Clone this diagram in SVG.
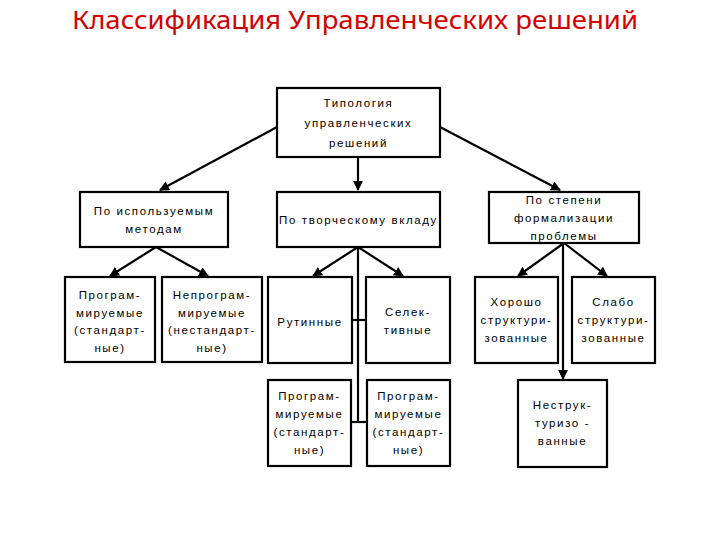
<svg xmlns="http://www.w3.org/2000/svg" width="720" height="540" viewBox="0 0 720 540">
<defs>
<style>
.box{fill:#fff;stroke:#000;stroke-width:2.2}
.t{font-family:"Liberation Sans",Arial,sans-serif;font-size:11.5px;letter-spacing:1.6px;text-anchor:middle;fill:#000}
.c{stroke:#000;stroke-width:2.2;fill:none}
.ttl{font-family:"Noto Sans","Liberation Sans",sans-serif;font-size:26px;fill:#d50000}
</style>
<marker id="ah" viewBox="0 0 10 10" refX="9" refY="5" markerWidth="4.5" markerHeight="4.5" orient="auto" markerUnits="strokeWidth">
<path d="M0,0 L10,5 L0,10 z" fill="#000"/>
</marker>
</defs>
<rect width="720" height="540" fill="#fff"/>
<text class="ttl" x="72" y="29" textLength="566" lengthAdjust="spacingAndGlyphs">Классификация Управленческих решений</text>

<g id="connectors">
<path class="c" d="M277,127 L160,190" marker-end="url(#ah)"/>
<path class="c" d="M440,127 L560,190" marker-end="url(#ah)"/>
<path class="c" d="M358,157 L358,190" marker-end="url(#ah)"/>
<path class="c" d="M156,247 L110,276" marker-end="url(#ah)"/>
<path class="c" d="M156,247 L208,276" marker-end="url(#ah)"/>
<path class="c" d="M358,247 L313,276" marker-end="url(#ah)"/>
<path class="c" d="M358,247 L403,276" marker-end="url(#ah)"/>
<path class="c" d="M358,247 L358,422"/>
<path class="c" d="M352,320 L366,320"/>
<path class="c" d="M351,422 L367,422"/>
<path class="c" d="M564,243 L518,276" marker-end="url(#ah)"/>
<path class="c" d="M564,243 L607,276" marker-end="url(#ah)"/>
<path class="c" d="M563,243 L563,379" marker-end="url(#ah)"/>
</g>

<g id="top">
<rect class="box" x="277" y="88" width="163" height="69"/>
<text class="t" x="358.5" y="107">Типология</text>
<text class="t" x="358.5" y="127">управленческих</text>
<text class="t" x="358.5" y="147">решений</text>
</g>

<g id="methods">
<rect class="box" x="80" y="192" width="148" height="55"/>
<text class="t" x="154" y="215">По используемым</text>
<text class="t" x="154" y="233">методам</text>
</g>

<g id="creative">
<rect class="box" x="277" y="192" width="163" height="55"/>
<text class="t" x="358.5" y="224">По творческому вкладу</text>
</g>

<g id="formal">
<rect class="box" x="489" y="192" width="150" height="51"/>
<text class="t" x="564" y="204">По степени</text>
<text class="t" x="564" y="222">формализации</text>
<text class="t" x="564" y="240">проблемы</text>
</g>

<g id="prog1">
<rect class="box" x="65" y="277" width="90" height="85"/>
<text class="t" x="110" y="299">Програм-</text>
<text class="t" x="110" y="317">мируемые</text>
<text class="t" x="110" y="334">(стандарт-</text>
<text class="t" x="110" y="352">ные)</text>
</g>

<g id="nonprog">
<rect class="box" x="162" y="277" width="100" height="85"/>
<text class="t" x="212" y="299">Непрограм-</text>
<text class="t" x="212" y="317">мируемые</text>
<text class="t" x="212" y="334">(нестандарт-</text>
<text class="t" x="212" y="352">ные)</text>
</g>

<g id="routine">
<rect class="box" x="268" y="277" width="84" height="86"/>
<text class="t" x="310" y="326">Рутинные</text>
</g>

<g id="selective">
<rect class="box" x="366" y="277" width="84" height="86"/>
<text class="t" x="408" y="316">Селек-</text>
<text class="t" x="408" y="334">тивные</text>
</g>

<g id="prog2">
<rect class="box" x="268" y="380" width="83" height="86"/>
<text class="t" x="309.5" y="400">Програм-</text>
<text class="t" x="309.5" y="418">мируемые</text>
<text class="t" x="309.5" y="436">(стандарт-</text>
<text class="t" x="309.5" y="454">ные)</text>
</g>

<g id="prog3">
<rect class="box" x="367" y="380" width="83" height="86"/>
<text class="t" x="408.5" y="400">Програм-</text>
<text class="t" x="408.5" y="418">мируемые</text>
<text class="t" x="408.5" y="436">(стандарт-</text>
<text class="t" x="408.5" y="454">ные)</text>
</g>

<g id="well">
<rect class="box" x="475" y="277" width="83" height="86"/>
<text class="t" x="516.5" y="306">Хорошо</text>
<text class="t" x="516.5" y="324">структури-</text>
<text class="t" x="516.5" y="342">зованные</text>
</g>

<g id="weak">
<rect class="box" x="572" y="277" width="83" height="86"/>
<text class="t" x="613.5" y="306">Слабо</text>
<text class="t" x="613.5" y="324">структури-</text>
<text class="t" x="613.5" y="342">зованные</text>
</g>

<g id="unstruct">
<rect class="box" x="518" y="380" width="89" height="87"/>
<text class="t" x="562.5" y="409">Неструк-</text>
<text class="t" x="562.5" y="427">туризо -</text>
<text class="t" x="562.5" y="445">ванные</text>
</g>
</svg>
